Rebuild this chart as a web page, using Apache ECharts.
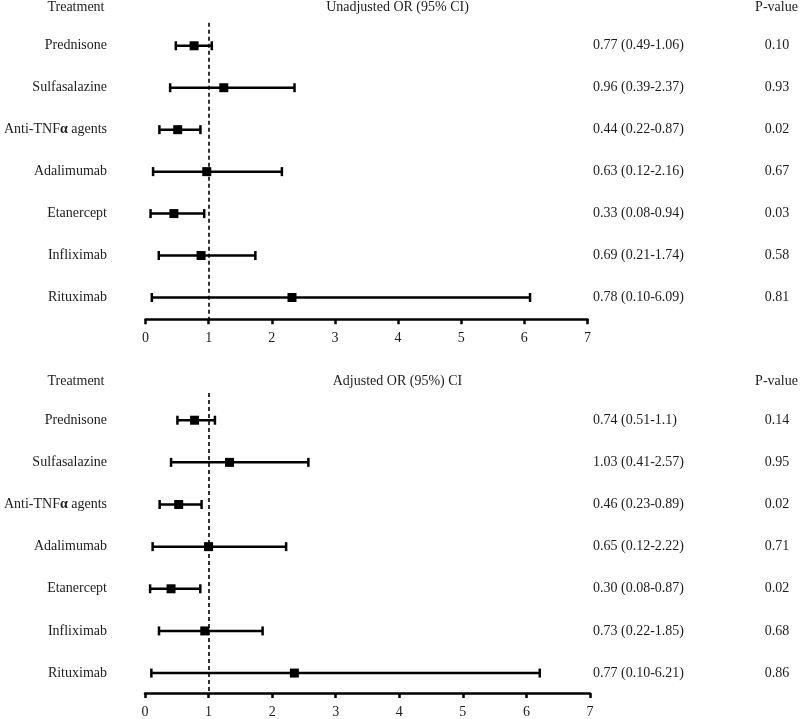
<!DOCTYPE html>
<html><head><meta charset="utf-8">
<script src="https://cdn.jsdelivr.net/npm/echarts@6.0.0/dist/echarts.min.js"></script>
<style>html,body{margin:0;padding:0;background:#fff}#c{width:800px;height:719px}</style>
</head><body><div id="c"></div>
<script>
const treatments = ['Prednisone','Sulfasalazine','Anti-TNFα agents','Adalimumab','Etanercept','Infliximab','Rituximab'];
const xTicks = [0,1,2,3,4,5,6,7];
const referenceLine = 1;

const unadjEst  = [0.77,1.24,0.51,0.97,0.45,0.88,2.32];
const unadjLow  = [0.48,0.39,0.22,0.12,0.08,0.21,0.10];
const unadjHigh = [1.05,2.36,0.87,2.16,0.93,1.74,6.09];
const unadjText = ['0.77 (0.49-1.06)','0.96 (0.39-2.37)','0.44 (0.22-0.87)','0.63 (0.12-2.16)','0.33 (0.08-0.94)','0.69 (0.21-1.74)','0.78 (0.10-6.09)'];
const unadjP    = ['0.10','0.93','0.02','0.67','0.03','0.58','0.81'];

const adjEst  = [0.78,1.33,0.53,1.00,0.41,0.94,2.35];
const adjLow  = [0.51,0.41,0.23,0.12,0.08,0.22,0.10];
const adjHigh = [1.10,2.57,0.89,2.22,0.87,1.85,6.21];
const adjText = ['0.74 (0.51-1.1)','1.03 (0.41-2.57)','0.46 (0.23-0.89)','0.65 (0.12-2.22)','0.30 (0.08-0.87)','0.73 (0.22-1.85)','0.77 (0.10-6.21)'];
const adjP    = ['0.14','0.95','0.02','0.71','0.02','0.68','0.86'];

const headerTop = ['Treatment','Unadjusted OR (95% CI)','P-value'];
const headerBottom = ['Treatment','Adjusted OR (95%) CI','P-value'];

const FONT = '"Liberation Serif", "DejaVu Serif", serif';
const TXT = '#1c1c1c';
const FS = 14;

function labelRich(s){
  return s.replace('α', '{b|α}');
}

function makeRender(orText, pText){
  return function(params, api){
    const i = params.dataIndex;
    const row = api.value(1);
    const y = api.coord([0, row])[1];
    const xl = api.coord([api.value(0), row])[0];
    const xh = api.coord([api.value(2), row])[0];
    const xe = api.coord([api.value(3), row])[0];
    const ls = {stroke:'#000', lineWidth:2.5};
    const cap = 4.5, sq = 4.5;
    return {type:'group', children:[
      {type:'line', shape:{x1:xl,y1:y,x2:xh,y2:y}, style:ls},
      {type:'line', shape:{x1:xl,y1:y-cap,x2:xl,y2:y+cap}, style:ls},
      {type:'line', shape:{x1:xh,y1:y-cap,x2:xh,y2:y+cap}, style:ls},
      {type:'rect', shape:{x:xe-sq,y:y-sq,width:sq*2,height:sq*2}, style:{fill:'#000'}},
      {type:'text', x:107, y:y, style:{text:labelRich(treatments[i]), align:'right', verticalAlign:'middle', fill:TXT, font:FS+'px '+FONT,
        rich:{b:{fontWeight:'bold', fontSize:FS, fontFamily:FONT, fill:TXT}}}},
      {type:'text', x:593, y:y, style:{text:orText[i], align:'left', verticalAlign:'middle', fill:TXT, font:FS+'px '+FONT}},
      {type:'text', x:777, y:y, style:{text:pText[i], align:'center', verticalAlign:'middle', fill:TXT, font:FS+'px '+FONT}}
    ]};
  };
}

function rows(low, high, est){
  return treatments.map((t,i)=>[low[i], i, high[i], est[i]]);
}

function xAxisCfg(idx){
  return {
    type:'value', gridIndex:idx, min:xTicks[0], max:xTicks[xTicks.length-1], interval:1,
    axisLine:{show:true, onZero:false, lineStyle:{color:'#000', width:2.5}},
    axisTick:{show:true, length:5, lineStyle:{color:'#000', width:2.5}},
    axisLabel:{color:TXT, fontSize:FS, fontFamily:FONT, margin:12},
    splitLine:{show:false}
  };
}

const chart = echarts.init(document.getElementById('c'), null, {renderer:'canvas'});
function headerGraphics(h, y){
  return [
    {type:'text', x:104.5, y:y, style:{text:h[0], align:'right', verticalAlign:'middle', fill:TXT, font:FS+'px '+FONT}},
    {type:'text', x:397.5, y:y, style:{text:h[1], align:'center', verticalAlign:'middle', fill:TXT, font:FS+'px '+FONT}},
    {type:'text', x:776.5, y:y, style:{text:h[2], align:'center', verticalAlign:'middle', fill:TXT, font:FS+'px '+FONT}}
  ];
}
chart.setOption({
  animation:false,
  backgroundColor:'#fff',
  grid:[
    {left:145.5, right:212.5, top:22.7, height:296.6},
    {left:145, right:210, top:393, height:301}
  ],
  xAxis:[xAxisCfg(0), xAxisCfg(1)],
  yAxis:[
    {type:'value', gridIndex:0, inverse:true, min:-0.55, max:6.52, show:false, splitLine:{show:false}},
    {type:'value', gridIndex:1, inverse:true, min:-0.646, max:6.473, show:false, splitLine:{show:false}}
  ],
  graphic: headerGraphics(headerTop, 7).concat(headerGraphics(headerBottom, 381)),
  series:[
    {type:'custom', xAxisIndex:0, yAxisIndex:0, clip:false, z:3,
     encode:{x:[0,2,3], y:1}, data:rows(unadjLow, unadjHigh, unadjEst), renderItem:makeRender(unadjText, unadjP),
     markLine:{silent:true, symbol:'none', z:1, label:{show:false}, lineStyle:{type:[4,3], color:'#000', width:1.6}, data:[{xAxis:referenceLine}]}},
    {type:'custom', xAxisIndex:1, yAxisIndex:1, clip:false, z:3,
     encode:{x:[0,2,3], y:1}, data:rows(adjLow, adjHigh, adjEst), renderItem:makeRender(adjText, adjP),
     markLine:{silent:true, symbol:'none', z:1, label:{show:false}, lineStyle:{type:[4,3], color:'#000', width:1.6}, data:[{xAxis:referenceLine}]}}
  ]
});
</script>
</body></html>
